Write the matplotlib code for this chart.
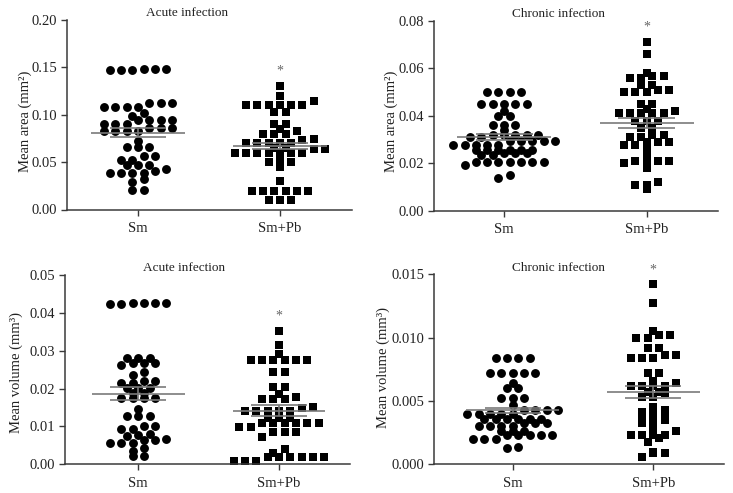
import matplotlib
matplotlib.use("Agg")
import matplotlib.pyplot as plt
import numpy as np

plt.rcParams['font.family'] = ['Liberation Serif', 'DejaVu Serif']

groups = ["Sm", "Sm+Pb"]

acute_area_sm = [0.148, 0.148, 0.147, 0.147, 0.147, 0.148,
                 0.112, 0.112, 0.112, 0.108, 0.108, 0.108, 0.108,
                 0.102, 0.099, 0.094, 0.094, 0.094, 0.094,
                 0.090, 0.090, 0.090, 0.086, 0.086, 0.086,
                 0.083, 0.083, 0.083, 0.083, 0.072, 0.066, 0.066, 0.066,
                 0.056, 0.056, 0.052, 0.052, 0.047, 0.047, 0.047,
                 0.043, 0.041, 0.039, 0.039, 0.039, 0.039,
                 0.032, 0.029, 0.021, 0.021]
acute_area_smpb = [0.130, 0.120, 0.114, 0.110, 0.110, 0.110, 0.110, 0.110, 0.110,
                   0.103, 0.103, 0.090, 0.090, 0.085, 0.083, 0.080, 0.080, 0.080,
                   0.074, 0.073, 0.070, 0.070, 0.070, 0.070, 0.070,
                   0.065, 0.065, 0.064, 0.064,
                   0.060, 0.060, 0.060, 0.060, 0.060, 0.060, 0.060,
                   0.055, 0.050, 0.050, 0.050, 0.045, 0.030,
                   0.020, 0.020, 0.020, 0.020, 0.020, 0.020,
                   0.010, 0.010, 0.010]

chronic_area_sm = [0.050, 0.050, 0.050, 0.050, 0.045, 0.045, 0.045, 0.045, 0.045,
                   0.042, 0.040, 0.040, 0.036, 0.036, 0.036, 0.034,
                   0.032, 0.032, 0.032, 0.032, 0.032, 0.031, 0.031,
                   0.0295, 0.0295, 0.0295, 0.0295, 0.0295,
                   0.0277, 0.0277, 0.0277, 0.0277, 0.0277,
                   0.0256, 0.0256, 0.0256, 0.0256, 0.0256, 0.0256,
                   0.0242, 0.0242, 0.0242, 0.0235, 0.0235,
                   0.0207, 0.0207, 0.0207, 0.0207, 0.0207, 0.0207, 0.0207,
                   0.0193, 0.015, 0.014]
chronic_area_smpb = [0.071, 0.066, 0.058, 0.057, 0.057, 0.056, 0.056, 0.053, 0.053,
                     0.051, 0.051, 0.050, 0.050, 0.050, 0.045, 0.045, 0.043, 0.042,
                     0.041, 0.041, 0.041, 0.041, 0.041, 0.038, 0.038, 0.038,
                     0.035, 0.035, 0.032, 0.032, 0.031, 0.031, 0.029, 0.029, 0.029,
                     0.0277, 0.0277, 0.0256, 0.0228, 0.021, 0.021, 0.021, 0.021,
                     0.020, 0.018, 0.012, 0.011, 0.011, 0.009]

acute_vol_sm = [0.0427, 0.0427, 0.0425, 0.0423, 0.0423, 0.0427,
                0.0282, 0.0282, 0.0282, 0.0267, 0.0263, 0.0267, 0.0267,
                0.0244, 0.0235, 0.0220, 0.0220, 0.0215, 0.0215,
                0.0202, 0.0202, 0.0202, 0.0189, 0.0189,
                0.0176, 0.0176, 0.0176, 0.0176, 0.0145,
                0.0128, 0.0128, 0.0128, 0.0101, 0.0101, 0.0092, 0.0092,
                0.0079, 0.0077, 0.0075, 0.0066, 0.0063, 0.0063,
                0.0057, 0.0057, 0.0057, 0.0043, 0.0036, 0.0021, 0.0021]
acute_vol_smpb = [0.0352, 0.0315, 0.0291, 0.0275, 0.0275, 0.0275, 0.0275, 0.0275, 0.0275,
                  0.0245, 0.0245, 0.0205, 0.0205, 0.0187, 0.0179,
                  0.0172, 0.0172, 0.0172, 0.0152, 0.0150,
                  0.0142, 0.0142, 0.0142, 0.0142, 0.0142,
                  0.0123, 0.0123, 0.0123, 0.0110, 0.0110, 0.0110, 0.0110, 0.0110, 0.0110,
                  0.0098, 0.0098, 0.0084, 0.0084, 0.0084, 0.0073, 0.0041, 0.0030,
                  0.0020, 0.0020, 0.0020, 0.0020, 0.0020, 0.0020,
                  0.0009, 0.0009, 0.0009]

chronic_vol_sm = [0.0084, 0.0084, 0.0084, 0.0084, 0.0072, 0.0072, 0.0072, 0.0072, 0.0072,
                  0.0064, 0.0060, 0.0060, 0.0052, 0.0052, 0.0052, 0.0047,
                  0.0043, 0.0043, 0.0043, 0.0043, 0.0040, 0.0040, 0.0040, 0.0040, 0.0040,
                  0.0036, 0.0036, 0.0036, 0.0036, 0.0036, 0.0036,
                  0.0033, 0.0033, 0.0033, 0.0030, 0.0030, 0.0030, 0.0030,
                  0.0026, 0.0026, 0.0026, 0.0023, 0.0023, 0.0023, 0.0023, 0.0023,
                  0.0020, 0.0020, 0.0020, 0.0013, 0.0014]
chronic_vol_smpb = [0.0142, 0.0127, 0.0105, 0.0102, 0.0102, 0.0100, 0.0100,
                    0.0092, 0.0092, 0.0086, 0.0086, 0.0084, 0.0084, 0.0084,
                    0.0072, 0.0072, 0.0066, 0.0064, 0.0062, 0.0062, 0.0062, 0.0062,
                    0.0057, 0.0057, 0.0056, 0.0053, 0.0053, 0.0045, 0.0043, 0.0043, 0.0041,
                    0.0037, 0.0037, 0.0037, 0.0035, 0.0035, 0.0033, 0.0029, 0.0026,
                    0.0023, 0.0023, 0.0023, 0.0023, 0.0021, 0.0018,
                    0.0009, 0.0009, 0.0010, 0.0006]

# means and SEM
acute_area_mean = [0.081, 0.067]
acute_area_sem = [0.0049, 0.0034]
chronic_area_mean = [0.031, 0.037]
chronic_area_sem = [0.0013, 0.0023]
acute_vol_mean = [0.0187, 0.0142]
acute_vol_sem = [0.0017, 0.0014]
chronic_vol_mean = [0.00426, 0.0057]
chronic_vol_sem = [0.0002, 0.00045]

W, H = 733, 493
fig = plt.figure(figsize=(W / 100, H / 100), dpi=100)

panels = [
    dict(rect=(67, 20, 352, 209.5), xlim=(0.5, 2.508), ylim=(0, 0.20),
         yticks=[0.00, 0.05, 0.10, 0.15, 0.20], fmt="{:.2f}",
         data=[acute_area_sm, acute_area_smpb], mean=acute_area_mean, sem=acute_area_sem,
         title="Acute infection", tx=0.42, ylabel="Mean area (mm²)", lx=-0.147, ly=0.463),
    dict(rect=(433.7, 21, 717.7, 210.7), xlim=(0.507, 2.497), ylim=(0, 0.08),
         yticks=[0.00, 0.02, 0.04, 0.06, 0.08], fmt="{:.2f}",
         data=[chronic_area_sm, chronic_area_smpb], mean=chronic_area_mean, sem=chronic_area_sem,
         title="Chronic infection", tx=0.44, ylabel="Mean area (mm²)", lx=-0.150, ly=0.473),
    dict(rect=(65, 275, 350, 464.3), xlim=(0.48, 2.504), ylim=(0, 0.05),
         yticks=[0.00, 0.01, 0.02, 0.03, 0.04, 0.05], fmt="{:.2f}",
         data=[acute_vol_sm, acute_vol_smpb], mean=acute_vol_mean, sem=acute_vol_sem,
         title="Acute infection", tx=0.417, ylabel="Mean volume (mm³)", lx=-0.172, ly=0.487),
    dict(rect=(434.3, 274.3, 724.3, 464.3), xlim=(0.443, 2.505), ylim=(0, 0.015),
         yticks=[0.000, 0.005, 0.010, 0.015], fmt="{:.3f}",
         data=[chronic_vol_sm, chronic_vol_smpb], mean=chronic_vol_mean, sem=chronic_vol_sem,
         title="Chronic infection", tx=0.43, ylabel="Mean volume (mm³)", lx=-0.177, ly=0.51),
]

axis_col = "#3a3a3a"
line_col = "#7a7a7a"
spacing_px = 11.3
row_px = 4.6


def row_offsets(ax, xc, vals):
    """Prism-like column scatter: values grouped into rows, each row centred."""
    vals = np.asarray(vals, dtype=float)
    pts = ax.transData.transform(np.column_stack([np.full(len(vals), xc), vals]))
    ypx = pts[:, 1]
    x0 = pts[0, 0]
    order = np.argsort(vals, kind="stable")
    rows = []
    cur = []
    start = None
    for i in order:
        if start is None or ypx[i] - start > row_px:
            if cur:
                rows.append(cur)
            cur = [i]
            start = ypx[i]
        else:
            cur.append(i)
    if cur:
        rows.append(cur)
    xs = np.zeros(len(vals))
    for row in rows:
        n = len(row)
        for j, i in enumerate(row):
            xs[i] = x0 + (j - (n - 1) / 2) * spacing_px
    inv = ax.transData.inverted()
    return inv.transform(np.column_stack([xs, ypx]))[:, 0]


for p in panels:
    l, t, r, b = p["rect"]
    ax = fig.add_axes([l / W, (H - b) / H, (r - l) / W, (b - t) / H])
    ax.set_xlim(*p["xlim"])
    ax.set_ylim(*p["ylim"])
    for s in ["top", "right"]:
        ax.spines[s].set_visible(False)
    for s in ["left", "bottom"]:
        ax.spines[s].set_color(axis_col)
        ax.spines[s].set_linewidth(1.1)
    ax.set_yticks(p["yticks"])
    ax.set_yticklabels([p["fmt"].format(v) for v in p["yticks"]])
    ax.set_xticks([1, 2])
    ax.set_xticklabels(groups)
    ax.tick_params(axis="both", direction="out", length=4, width=1.0, color=axis_col,
                   labelsize=10.5, labelcolor="#222222")
    ax.tick_params(axis="y", pad=3)
    ax.tick_params(axis="x", pad=5)

    for gi, (vals, marker) in enumerate(zip(p["data"], ["o", "s"])):
        xc = gi + 1
        xs = row_offsets(ax, xc, vals)
        ax.plot(xs, vals, linestyle="none", marker=marker, markersize=6.4 if marker == "o" else 6.1,
                color="black", markeredgewidth=0, zorder=2, clip_on=False)
        m, se = p["mean"][gi], p["sem"][gi]
        ax.hlines(m, xc - 0.33, xc + 0.33, color=line_col, linewidth=1.2, zorder=3)
        ax.hlines([m - se, m + se], xc - 0.2, xc + 0.2, color=line_col, linewidth=1.2, zorder=3)
        ax.vlines(xc, m - se, m + se, color=line_col, linewidth=1.2, zorder=3)

    top = max(p["data"][1])
    ax.annotate("*", xy=(2, top), xytext=(0, 6), textcoords="offset points",
                ha="center", va="bottom", fontsize=10, color="#666666")

    ax.text(p["tx"], 1.035, p["title"], transform=ax.transAxes, ha="center", va="center",
            fontsize=9.5, color="#222222")
    ax.set_ylabel(p["ylabel"], fontsize=10.5, color="#222222", va="center")
    ax.yaxis.set_label_coords(p["lx"], p["ly"])

fig.savefig("out.png", dpi=100)
